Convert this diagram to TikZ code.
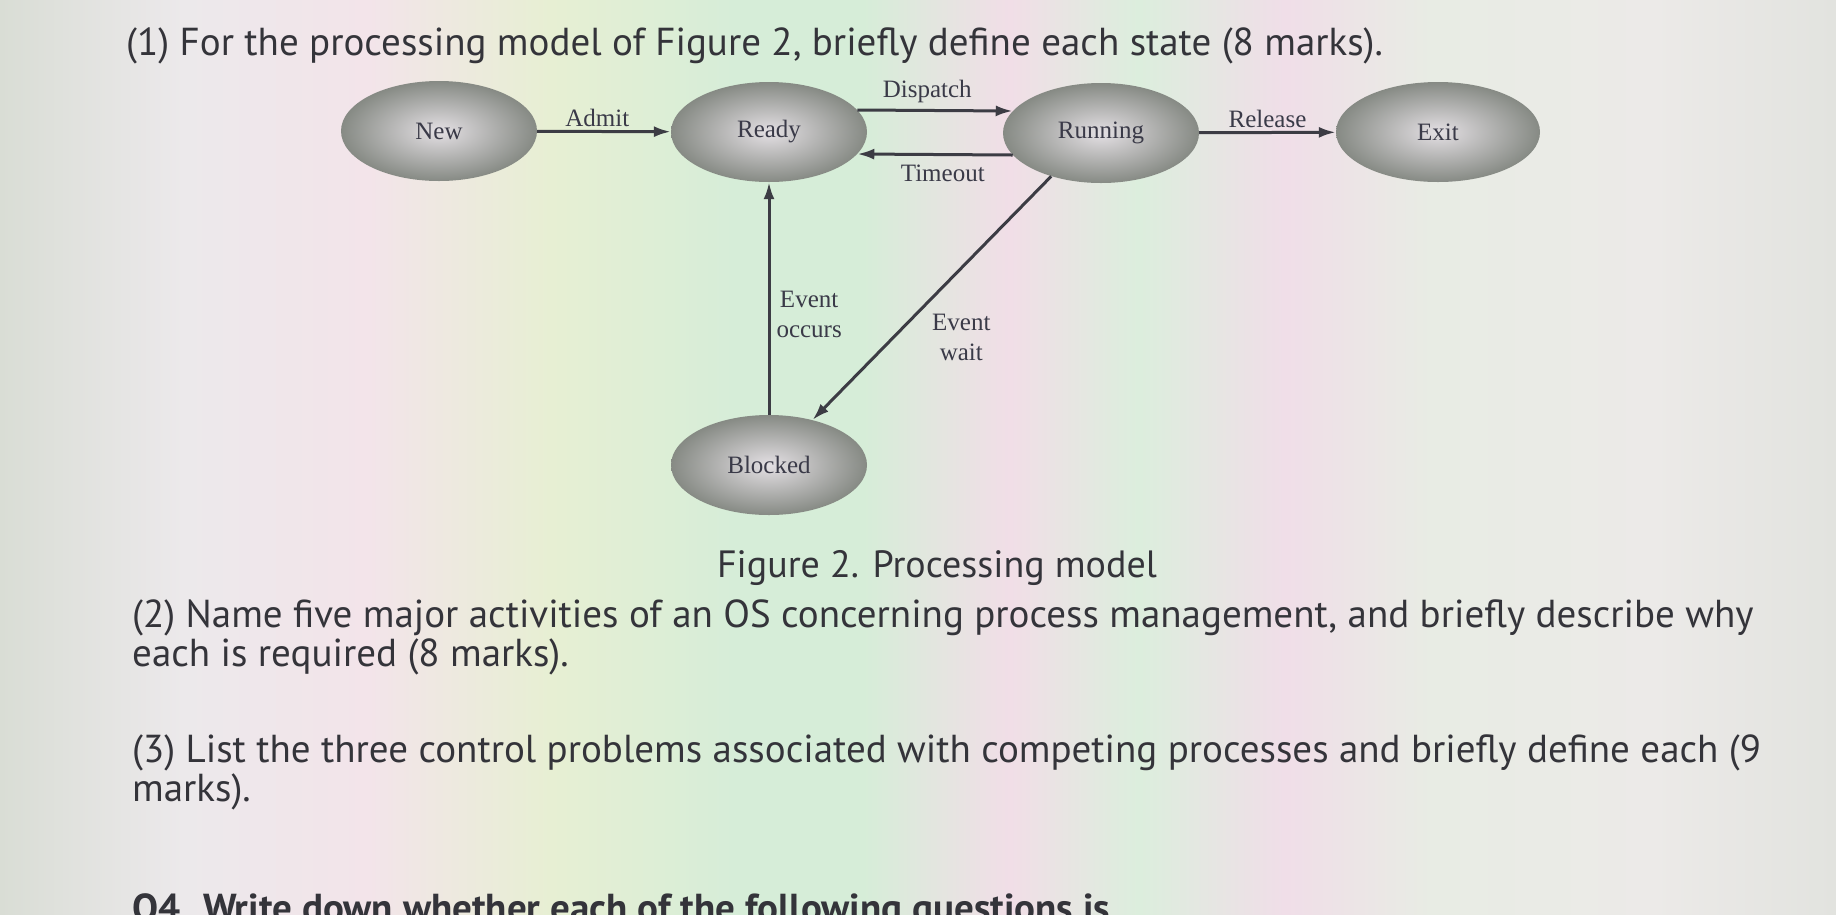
\documentclass[tikz,border=0pt]{standalone}
\usepackage{fontspec}
\setmainfont{PT Sans}
\newfontfamily\serifd{Liberation Serif}
\usetikzlibrary{shapes.geometric,arrows.meta}
\definecolor{qcol}{HTML}{34343A}
\definecolor{lbl}{HTML}{3A3A48}
\definecolor{arrc}{HTML}{3C3C44}
\definecolor{stateIn}{HTML}{E4E0E4}
\definecolor{stateOut}{HTML}{868A84}
\definecolor{bgA}{HTML}{D9DDD5}
\definecolor{bgB}{HTML}{ECE9EB}
\definecolor{bgC}{HTML}{F3E4EA}
\definecolor{bgD}{HTML}{E7EFD3}
\definecolor{bgE}{HTML}{D6EDD8}
\definecolor{bgF}{HTML}{F1DEE7}
\definecolor{bgG}{HTML}{DCEEDD}
\definecolor{bgH}{HTML}{F0DEE8}
\definecolor{bgI}{HTML}{E8ECE4}
\definecolor{bgJ}{HTML}{ECEAE8}
\definecolor{bgK}{HTML}{E2E3DF}
\pgfdeclarehorizontalshading{bgshade}{100bp}{color(0bp)=(bgA); color(25bp)=(bgA); color(30bp)=(bgB); color(35bp)=(bgC); color(40bp)=(bgD); color(45bp)=(bgE); color(48.5bp)=(bgE); color(52.5bp)=(bgF); color(56bp)=(bgG); color(60bp)=(bgH); color(64bp)=(bgI); color(70bp)=(bgJ); color(75bp)=(bgK); color(100bp)=(bgK)}
\begin{document}
\begin{tikzpicture}[x=1pt,y=-1pt,
  state/.style={ellipse, minimum width=196pt, minimum height=100pt, inner sep=0pt,
    shade, inner color=stateIn, outer color=stateOut,
    font=\serifd\fontsize{25}{29}\selectfont, text=lbl},
  arr/.style={draw=arrc, line width=3pt, -{Latex[length=17pt,width=11pt]}},
  lab/.style={font=\serifd\fontsize{25}{30}\selectfont, text=lbl, align=center, inner sep=3pt},
  qtext/.style={font=\fontsize{39}{39}\selectfont, text=qcol, anchor=base west, inner sep=0pt, align=left}]
\useasboundingbox (0,0) rectangle (1836,914);
\clip (0,0) rectangle (1836,914);
\shade[shading=bgshade] (0,0) rectangle (1836,914);

% question text
\node[qtext] (q1) at (126,55) {(1) For the processing model of Figure 2, briefly define each state (8 marks).};
\node[qtext] (q2) at (132,666) {(2) Name five major activities of an OS concerning process management, and briefly describe why\\each is required (8 marks).};
\node[qtext] (q3) at (132,801) {(3) List the three control problems associated with competing processes and briefly define each (9\\marks).};
\node[qtext, font=\bfseries\fontsize{39}{39}\selectfont] (q4) at (132,921) {Q4. Write down whether each of the following questions is};
\node[font=\fontsize{38}{39}\selectfont, text=qcol, anchor=base, inner sep=0pt] (cap) at (937,577) {Figure 2. Processing model};

% states
\node[state] (new) at (439,131) {New};
\node[state] (ready) at (769,132) {Ready};
\node[state] (running) at (1101,133) {Running};
\node[state, minimum width=204pt] (exit) at (1438,132) {Exit};
\node[state] (blocked) at (769,465) {Blocked};

% transitions
\draw[arr] (new) -- node[lab, above, pos=0.45] {Admit} (ready);
\draw[arr] (ready.14) -- node[lab, above, pos=0.45, yshift=3pt] {Dispatch} (running.166);
\draw[arr] (running.194) -- node[lab, below, pos=0.45, yshift=-6pt] {Timeout} (ready.-14);
\draw[arr] (running) -- node[lab, above] {Release} (exit);
\draw[arr] (blocked.north) -- node[lab, right=3pt, pos=0.43] {Event\\occurs} (ready.south);
\draw[arr] (running.221) -- node[lab, right=34pt, pos=0.66] {Event\\wait} (blocked.46);
\end{tikzpicture}
\end{document}
